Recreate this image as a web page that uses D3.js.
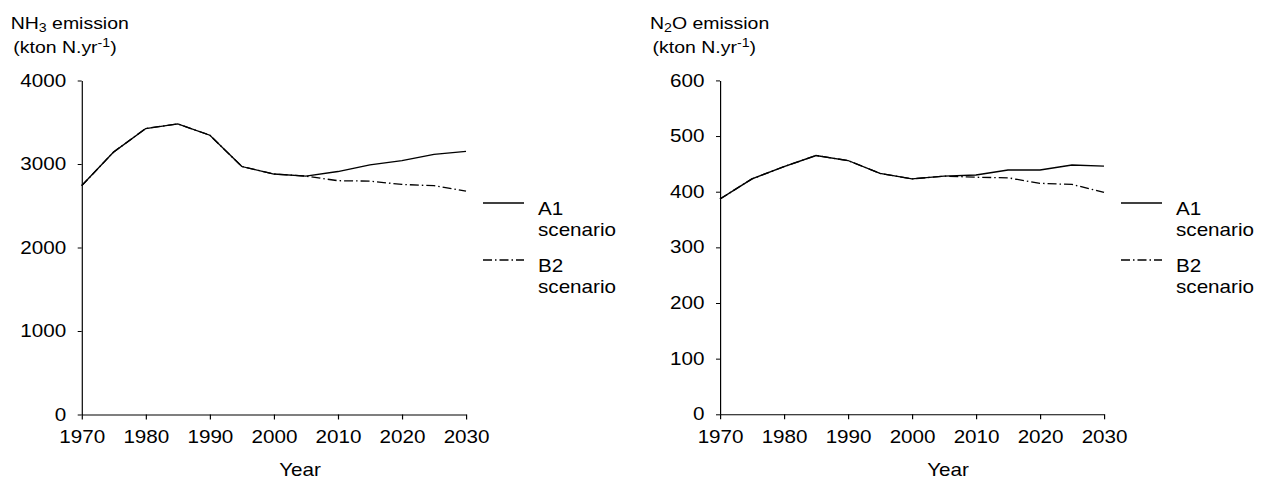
<!DOCTYPE html>
<html>
<head>
<meta charset="utf-8">
<script src="https://d3js.org/d3.v7.min.js"></script>
<style>
  body { margin: 0; background: #fff; }
  text { font-family: "Liberation Sans", Arial, sans-serif; fill: #000; }
</style>
</head>
<body>
<div id="graph"></div>
<script>

// data
var years = [1970, 1975, 1980, 1985, 1990, 1995, 2000, 2005, 2010, 2015, 2020, 2025, 2030];
var nh3A1 = [2740, 3145, 3425, 3480, 3345, 2970, 2880, 2855, 2910, 2990, 3040, 3115, 3150];
var nh3B2 = [2740, 3145, 3425, 3480, 3345, 2970, 2880, 2855, 2800, 2795, 2755, 2740, 2675];
var n2oA1 = [387, 423, 445, 465, 456, 433, 423, 428, 430, 439, 439, 448, 446];
var n2oB2 = [387, 423, 445, 465, 456, 433, 423, 428, 426, 425, 415, 413, 399];
var yearTicks = [1970, 1980, 1990, 2000, 2010, 2020, 2030];
var nh3Ticks = [0, 1000, 2000, 3000, 4000];
var n2oTicks = [0, 100, 200, 300, 400, 500, 600];
var scenarios = ["A1", "B2"];

// the original figure is stretched sideways, so draw in a narrower space and stretch it back
var W = 1264, H = 479, sx = 1.18;
function L(px) { return px / sx; }

var svg = d3.select("#graph")
  .append("svg")
    .attr("width", W)
    .attr("height", H)
    .attr("viewBox", "0 0 " + (W / sx) + " " + H)
    .attr("preserveAspectRatio", "none");

var panels = [
  { gas: "NH", sub: "3", after: " emission", A1: nh3A1, B2: nh3B2, ticks: nh3Ticks,
    x0: 81.7, x1: 466, yBottom: 414.5, yTop: 80.5, titleX: 10.7, yearX: 300 },
  { gas: "N", sub: "2", after: "O emission", A1: n2oA1, B2: n2oB2, ticks: n2oTicks,
    x0: 720, x1: 1104, yBottom: 414.3, yTop: 80.4, titleX: 650, yearX: 948 }
];

var dashes = { A1: null, B2: L(9) + "," + L(3) + "," + L(1.5) + "," + L(3) };

panels.forEach(function(p) {
  var x = d3.scaleLinear().domain([1970, 2030]).range([L(p.x0), L(p.x1)]);
  var y = d3.scaleLinear().domain([0, d3.max(p.ticks)]).range([p.yBottom, p.yTop]);

  // axes
  var xAxis = svg.append("g")
      .attr("transform", "translate(0," + p.yBottom + ")")
      .call(d3.axisBottom(x).tickValues(yearTicks).tickFormat(d3.format("d"))
        .tickSize(5).tickSizeOuter(0).tickPadding(11));

  var yAxis = svg.append("g")
      .attr("transform", "translate(" + L(p.x0) + ",0)")
      .call(d3.axisLeft(y).tickValues(p.ticks).tickFormat(d3.format("d"))
        .tickSize(L(4)).tickSizeOuter(0).tickPadding(L(11.5)));

  [xAxis, yAxis].forEach(function(a) {
    a.selectAll("path, line").attr("stroke", "#000").attr("stroke-width", 1);
    a.selectAll("text").style("font-size", "17.5px").attr("fill", "#000");
    a.attr("font-family", null);
  });

  // lines, B2 first so the solid A1 sits on top where they coincide
  ["B2", "A1"].forEach(function(s) {
    var vals = p[s];
    svg.append("path")
      .datum(years.map(function(yr, i) { return [yr, vals[i]]; }))
      .attr("fill", "none")
      .attr("stroke", "#000")
      .attr("stroke-width", 1.3)
      .attr("stroke-dasharray", dashes[s])
      .attr("d", d3.line()
        .x(function(d) { return x(d[0]); })
        .y(function(d) { return y(d[1]); }));
  });

  // title
  var t1 = svg.append("text").attr("x", L(p.titleX)).attr("y", 29.5).style("font-size", "16.5px");
  t1.append("tspan").text(p.gas);
  t1.append("tspan").attr("dy", 3).style("font-size", "12px").text(p.sub);
  t1.append("tspan").attr("dy", -3).text(p.after);

  var t2 = svg.append("text").attr("x", L(p.titleX + 2.6)).attr("y", 53.5).style("font-size", "16.5px");
  t2.append("tspan").text("(kton N.yr");
  t2.append("tspan").attr("dy", -6).style("font-size", "12px").text("-1");
  t2.append("tspan").attr("dy", 6).text(")");

  // x axis title
  svg.append("text")
    .attr("x", L(p.yearX)).attr("y", 476)
    .attr("text-anchor", "middle")
    .style("font-size", "17.5px")
    .text("Year");

  // legend
  var leg = svg.selectAll(null)
    .data(scenarios)
    .enter()
    .append("g")
      .attr("transform", function(d, i) { return "translate(0," + (203 + i * 57) + ")"; });

  leg.append("line")
    .attr("x1", L(p.x1 + 17)).attr("x2", L(p.x1 + 58))
    .attr("stroke", "#000").attr("stroke-width", 1.3)
    .attr("stroke-dasharray", function(d) { return dashes[d]; });

  var lt = leg.append("text")
    .attr("x", L(p.x1 + 72))
    .style("font-size", "17.5px");
  lt.append("tspan").attr("y", 12).text(function(d) { return d; });
  lt.append("tspan").attr("x", L(p.x1 + 72)).attr("y", 33.5).text("scenario");
});

</script>
</body>
</html>
